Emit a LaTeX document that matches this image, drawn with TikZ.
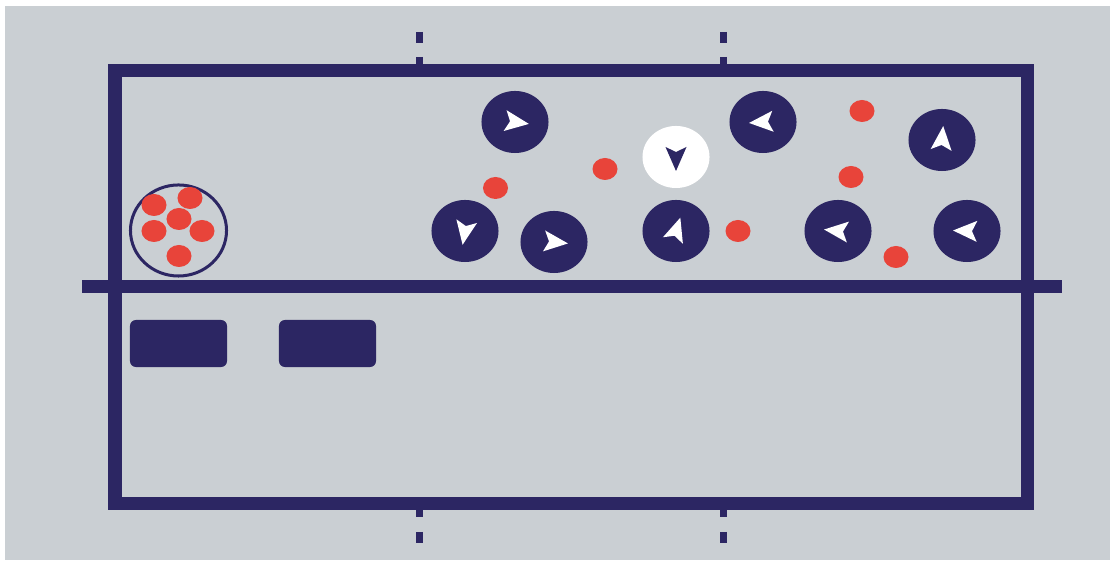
\documentclass[tikz,border=0pt]{standalone}
\definecolor{pitchgray}{RGB}{202,207,211}
\definecolor{teamnavy}{RGB}{44,38,99}
\definecolor{ballred}{RGB}{232,68,58}
\usetikzlibrary{shapes.geometric}

\begin{document}
\begin{tikzpicture}[x=0.01cm, y=-0.01cm,
  player/.style={ellipse, fill=teamnavy, minimum width=0.67cm, minimum height=0.62cm, inner sep=0pt},
  ball/.style={ellipse, fill=ballred, minimum width=0.25cm, minimum height=0.22cm, inner sep=0pt},
  pitchline/.style={teamnavy, line width=0.13cm},
  bench/.style={fill=teamnavy, rounded corners=0.06cm, minimum width=0.97cm, minimum height=0.47cm, inner sep=0pt}]
  \useasboundingbox (0,0) rectangle (1115,565);
  \fill[pitchgray] (5,6) rectangle (1110,560);

  % pitch
  \draw[pitchline] (115,71) rectangle (1027.5,503.5);
  \draw[pitchline] (82,287) -- (1062,287);
  \foreach \x in {419,723} {
    \draw[teamnavy, line width=0.07cm] (\x,32) -- (\x,43) (\x,57) -- (\x,66);
    \draw[teamnavy, line width=0.07cm] (\x,508) -- (\x,517) (\x,532) -- (\x,543);
  }

  % players
  \foreach \x/\y/\a [count=\i] in {515/122/-8, 465/231/-100, 554/242/-6, 676/231/72,
                                   763/122/184, 942/140/85, 838/231/174, 967/231/178} {
    \node[player] (p\i) at (\x,\y) {};
    \fill[white, shift={(p\i.center)}, rotate=\a] (14,0) -- (-10,10.5) -- (-5,0) -- (-10,-10.5) -- cycle;
  }
  \node[player, fill=white] (keeper) at (676,157) {};
  \fill[teamnavy, shift={(keeper.center)}, rotate=-90] (14,0) -- (-10,10.5) -- (-5,0) -- (-10,-10.5) -- cycle;

  % balls
  \foreach \x/\y [count=\i] in {495.5/188, 605/169, 862/111, 851/177, 738/231, 896/257} {
    \node[ball] (b\i) at (\x,\y) {};
  }
  \node[ellipse, draw=teamnavy, line width=0.03cm, minimum width=0.96cm, minimum height=0.91cm] (bag) at (178.5,230.5) {};
  \foreach \x/\y [count=\i] in {154/205, 190/198, 179/219, 154/231, 202/231, 179/256} {
    \node[ball] (k\i) at (\x,\y) {};
  }

  % benches
  \node[bench] (bench1) at (178.5,343.5) {};
  \node[bench] (bench2) at (327.5,343.5) {};
\end{tikzpicture}
\end{document}
